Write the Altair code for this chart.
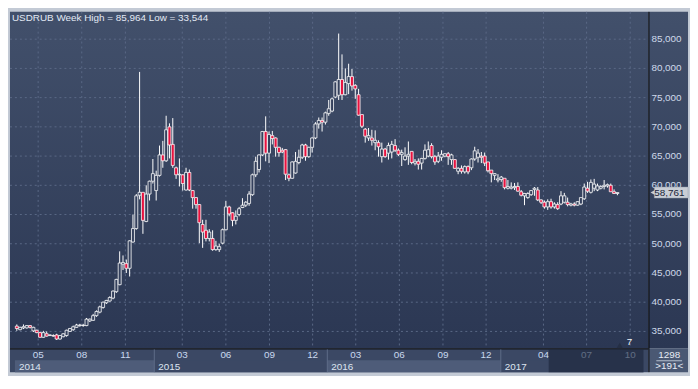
import altair as alt
import pandas as pd

# ---------------- data (weekly USDRUB candles) ----------------
opens = [35.9, 35.3, 35.6, 35.6, 36.0, 35.1, 35.2, 34.8, 34.0, 34.6,
         34.3, 34.3, 34.4, 33.7, 34.1, 34.3, 35.0, 35.3, 35.7, 36.0,
         36.0, 36.0, 36.8, 36.9, 37.7, 38.3, 39.1, 39.9, 40.2, 40.7,
         41.8, 43.0, 46.5, 46.6, 45.8, 50.3, 52.6, 58.3, 58.8, 53.8,
         58.5, 60.7, 59.1, 61.7, 65.2, 64.2, 70.0, 67.0, 63.0, 61.8,
         61.8, 59.2, 62.2, 59.1, 57.9, 56.7, 53.3, 52.3, 50.9, 50.9,
         49.0, 49.0, 50.1, 52.4, 56.3, 55.3, 54.0, 55.0, 56.2, 56.6,
         56.9, 58.4, 61.8, 62.7, 65.2, 69.2, 65.5, 68.5, 68.1, 66.5,
         66.0, 66.1, 61.8, 61.2, 62.1, 63.9, 64.8, 66.9, 64.9, 66.5,
         68.1, 70.5, 71.1, 70.8, 72.3, 72.7, 75.1, 75.4, 78.1, 75.5,
         77.4, 78.6, 77.1, 75.5, 72.1, 69.6, 68.1, 68.1, 67.3, 67.3,
         64.9, 66.2, 65.5, 65.7, 66.8, 66.0, 65.3, 64.4, 65.0, 65.8,
         63.8, 64.1, 63.8, 64.6, 65.0, 66.8, 64.9, 64.1, 64.8, 65.0,
         65.4, 64.4, 64.4, 62.4, 62.9, 62.3, 63.2, 63.0, 64.5, 64.8,
         65.0, 65.0, 64.0, 62.6, 61.7, 60.9, 61.0, 61.2, 59.5, 59.5,
         59.6, 59.8, 58.9, 58.2, 57.9, 58.4, 59.3, 59.2, 57.5, 57.1,
         56.3, 57.2, 56.3, 56.7, 56.8, 57.1, 57.1, 56.6, 56.8, 56.6,
         56.8, 57.7, 59.5, 58.8, 59.5, 59.2, 59.5, 59.8, 59.9, 60.0,
         58.9, 58.6]
highs = [36.2, 35.8, 36.2, 36.1, 36.1, 35.8, 35.3, 34.9, 35.1, 35.0,
         34.5, 34.5, 34.6, 34.4, 34.7, 35.3, 35.6, 36.0, 36.3, 36.3,
         36.3, 37.3, 37.2, 38.0, 38.6, 39.4, 40.1, 40.4, 41.0, 42.0,
         44.0, 48.7, 48.0, 47.3, 50.6, 55.0, 58.5, 79.4, 58.8, 60.0,
         60.8, 64.5, 62.5, 66.8, 67.6, 71.9, 70.6, 71.5, 63.2, 64.6,
         61.9, 63.0, 62.7, 59.2, 58.0, 56.8, 54.1, 54.1, 52.5, 52.3,
         50.5, 50.0, 52.6, 57.3, 56.5, 55.4, 55.7, 56.3, 57.8, 57.3,
         59.0, 62.0, 64.9, 65.3, 69.3, 71.8, 69.2, 69.3, 68.2, 66.6,
         66.4, 66.2, 62.0, 64.1, 65.7, 66.1, 67.1, 67.1, 66.6, 68.2,
         70.8, 71.6, 71.6, 72.6, 74.6, 75.0, 77.8, 85.964, 82.4, 80.0,
         80.8, 79.9, 77.3, 76.5, 72.1, 69.8, 69.8, 69.5, 69.4, 67.7,
         67.3, 66.4, 67.3, 67.6, 67.9, 66.3, 66.1, 66.5, 67.5, 65.8,
         64.5, 64.6, 64.7, 67.0, 67.5, 67.2, 65.2, 65.7, 66.0, 65.5,
         65.7, 65.4, 64.5, 63.1, 63.4, 63.4, 63.4, 64.6, 66.6, 66.2,
         65.7, 65.6, 64.0, 62.6, 62.1, 61.9, 61.6, 61.2, 60.9, 60.5,
         60.4, 60.5, 59.2, 58.7, 58.8, 59.2, 59.7, 59.7, 57.6, 57.4,
         57.6, 57.7, 57.1, 57.1, 59.0, 58.7, 57.9, 57.0, 57.1, 57.3,
         57.9, 60.3, 60.6, 61.0, 61.1, 60.3, 60.0, 60.9, 60.3, 60.3,
         59.3, 58.8]
lows = [35.1, 35.2, 35.4, 35.5, 35.5, 34.9, 34.7, 33.9, 33.9, 34.1,
        34.2, 34.1, 33.544, 33.6, 34.0, 34.1, 34.9, 35.1, 35.6, 35.8,
        35.8, 35.9, 36.6, 36.8, 37.5, 38.1, 38.9, 39.7, 40.1, 40.5,
        41.6, 42.9, 45.5, 45.0, 44.4, 50.2, 52.4, 57.6, 51.7, 53.7,
        57.4, 60.3, 57.4, 61.5, 63.0, 64.0, 64.6, 63.0, 61.1, 59.8,
        59.1, 59.1, 59.0, 56.0, 56.0, 50.1, 49.3, 50.4, 50.4, 48.8,
        48.8, 48.6, 49.9, 52.3, 54.7, 53.0, 53.3, 54.7, 56.1, 56.3,
        56.5, 58.2, 61.4, 62.2, 65.0, 64.1, 63.8, 67.0, 64.9, 64.9,
        65.5, 60.9, 60.7, 61.1, 62.0, 63.6, 64.5, 64.2, 64.7, 65.6,
        67.9, 69.7, 69.2, 70.4, 71.9, 72.5, 74.9, 74.6, 74.6, 75.4,
        75.6, 76.2, 74.8, 71.9, 69.8, 67.3, 67.6, 66.8, 66.0, 64.9,
        63.9, 64.7, 64.4, 64.6, 65.7, 65.0, 63.3, 64.2, 63.5, 63.6,
        63.4, 62.7, 62.7, 64.4, 64.8, 64.6, 63.5, 63.8, 64.2, 64.8,
        63.5, 63.5, 62.8, 61.9, 62.0, 62.0, 61.9, 62.6, 64.2, 63.9,
        63.8, 63.3, 62.2, 60.5, 60.9, 60.5, 60.6, 59.3, 59.3, 59.3,
        59.2, 58.9, 58.1, 56.6, 57.7, 58.2, 58.2, 57.3, 56.8, 56.0,
        55.8, 56.0, 56.0, 55.8, 56.6, 56.9, 56.4, 56.4, 56.4, 56.5,
        56.6, 57.5, 58.7, 58.6, 59.0, 59.0, 59.3, 59.3, 59.6, 58.9,
        58.5, 58.3]
closes = [35.5, 35.7, 35.8, 36.0, 35.7, 35.7, 34.8, 34.0, 34.8, 34.2,
          34.4, 34.2, 33.7, 34.3, 34.6, 35.2, 35.5, 35.8, 36.1, 36.1,
          36.05, 37.1, 37.1, 37.7, 38.4, 39.2, 40.0, 40.3, 40.8, 41.9,
          43.9, 46.7, 46.8, 45.8, 50.5, 52.6, 58.2, 58.8, 54.0, 58.5,
          60.7, 62.0, 61.7, 65.2, 64.2, 69.5, 66.9, 63.4, 61.8, 61.9,
          60.3, 62.2, 59.2, 57.9, 56.7, 53.6, 52.0, 50.9, 52.0, 49.0,
          49.6, 49.5, 52.4, 56.3, 55.1, 54.0, 54.7, 56.0, 56.6, 57.1,
          58.5, 61.8, 64.1, 65.2, 69.2, 65.5, 68.7, 68.0, 66.5, 65.6,
          65.7, 61.9, 61.2, 64.0, 64.1, 64.8, 66.9, 64.9, 66.5, 68.1,
          70.5, 71.1, 70.8, 72.4, 73.1, 74.8, 77.7, 78.1, 75.5, 77.6,
          78.6, 77.0, 76.5, 72.0, 70.1, 68.4, 68.5, 67.7, 67.7, 66.6,
          66.2, 64.9, 66.8, 67.0, 66.0, 65.3, 65.6, 65.0, 65.3, 63.9,
          64.1, 63.6, 64.6, 66.0, 66.1, 64.9, 64.0, 65.0, 65.3, 65.4,
          64.9, 65.2, 62.9, 62.9, 62.4, 63.2, 62.3, 64.5, 65.9, 65.5,
          64.8, 63.8, 62.5, 62.0, 62.0, 61.1, 61.4, 59.6, 59.8, 59.7,
          59.8, 59.0, 58.3, 58.6, 58.6, 59.1, 59.5, 57.5, 57.1, 56.3,
          57.2, 56.3, 56.8, 56.0, 58.2, 58.2, 56.7, 56.8, 56.6, 57.2,
          57.9, 59.7, 59.0, 60.5, 60.2, 59.9, 59.8, 60.0, 60.1, 58.9,
          58.6, 58.761]
first_week = "2014-03-17"

y_ticks = [35, 40, 45, 50, 55, 60, 65, 70, 75, 80, 85]
month_ticks = ["2014-05-01", "2014-08-01", "2014-11-01", "2015-03-01", "2015-06-01",
               "2015-09-01", "2015-12-01", "2016-03-01", "2016-06-01", "2016-09-01",
               "2016-12-01", "2017-04-01", "2017-07-01", "2017-10-01"]
month_labels = ["05", "08", "11", "03", "06", "09", "12", "03", "06", "09", "12", "04", "07", "10"]
year_labels = ["2014", "2015", "2016", "2017"]
year_starts = ["2014-03-13", "2015-01-01", "2016-01-01", "2017-01-01"]
year_ends = ["2015-01-01", "2016-01-01", "2017-01-01", "2017-10-29"]
x_domain = ["2014-03-13", "2017-10-29"]
y_domain = [32.097, 89.677]

# ---------------- layout / style ----------------
W, H = 645, 340
PANEL = 40
BAND = 24
FONT = "Liberation Sans"
BG_TOP, BG_BOT = "#42506b", "#2b3753"
RED = "#e8123f"

dates = pd.date_range(first_week, periods=len(closes), freq="7D")
df = pd.DataFrame({"date": dates, "open": opens, "high": highs, "low": lows, "close": closes})
df["top"] = df[["open", "close"]].max(axis=1)
df["bot"] = df[["open", "close"]].min(axis=1)
df["dir"] = ["up" if c >= o else "down" for o, c in zip(opens, closes)]

xs = alt.Scale(domain=[pd.Timestamp(d).isoformat() for d in x_domain], nice=False)
ys = alt.Scale(domain=y_domain, nice=False, zero=False)


def X(field):
    return alt.X(field, type="temporal", scale=xs, axis=None)


def Y(field):
    return alt.Y(field, type="quantitative", scale=ys, axis=None)


one = pd.DataFrame({"a": [0]})
grad = {"gradient": "linear", "x1": 0, "y1": 0, "x2": 0, "y2": 1,
        "stops": [{"offset": 0, "color": BG_TOP}, {"offset": 1, "color": BG_BOT}]}

plot_bg = alt.Chart(one).mark_rect(fill=grad).encode(
    x=alt.value(0), x2=alt.value(W), y=alt.value(0), y2=alt.value(H))
panel_bg = alt.Chart(one).mark_rect(fill=grad).encode(
    x=alt.value(W), x2=alt.value(W + PANEL), y=alt.value(0), y2=alt.value(H))
band_bg = alt.Chart(one).mark_rect(fill="#3b4864").encode(
    x=alt.value(0), x2=alt.value(W), y=alt.value(H), y2=alt.value(H + BAND))
corner_bg = alt.Chart(one).mark_rect(fill="#4a5873").encode(
    x=alt.value(W), x2=alt.value(W + PANEL), y=alt.value(H), y2=alt.value(H + BAND))

years_df = pd.DataFrame({
    "label": year_labels,
    "start": pd.to_datetime(year_starts),
    "end": pd.to_datetime(year_ends),
    "shade": ["a", "b", "a", "b"],
})
year_boxes = alt.Chart(years_df).mark_rect().encode(
    x=X("start"), x2="end",
    y=alt.value(H + 12), y2=alt.value(H + BAND),
    fill=alt.Fill("shade:N", scale=alt.Scale(domain=["a", "b"], range=["#4e5c79", "#3b4864"]), legend=None),
)
year_sep = alt.Chart(years_df.iloc[1:]).mark_rule(color="#5e6c88", strokeWidth=1).encode(
    x=X("start"), y=alt.value(H + 1), y2=alt.value(H + BAND))
year_text = alt.Chart(years_df).mark_text(
    align="left", baseline="middle", dx=4, font=FONT, fontSize=10, color="#dde5f0").encode(
    x=X("start"), y=alt.value(H + 18.5), text="label:N")

ticks_df = pd.DataFrame({"v": y_ticks})
ticks_df["lab"] = [f"{v:.3f}".replace(".", ",") for v in y_ticks]
months_df = pd.DataFrame({"date": pd.to_datetime(month_ticks), "lab": month_labels})

hgrid = alt.Chart(ticks_df).mark_rule(color="#5a6886", strokeDash=[2, 3], strokeWidth=1).encode(
    y=Y("v"), x=alt.value(0), x2=alt.value(W))
vgrid = alt.Chart(months_df).mark_rule(color="#5a6886", strokeDash=[2, 3], strokeWidth=1).encode(
    x=X("date"), y=alt.value(0), y2=alt.value(H))

base = alt.Chart(df)
wick_hi = base.mark_rule(color="#ffffff", strokeWidth=1).encode(x=X("date"), y=Y("top"), y2="high")
wick_lo = base.mark_rule(color="#ffffff", strokeWidth=1).encode(x=X("date"), y=Y("low"), y2="bot")
bodies = base.mark_bar(size=3, stroke="#ffffff", strokeWidth=0.8).encode(
    x=X("date"), y=Y("open"), y2="close",
    fill=alt.Fill("dir:N", scale=alt.Scale(domain=["up", "down"], range=["#34405c", RED]), legend=None),
)

x_line = alt.Chart(one).mark_rule(color="#000000", strokeWidth=1).encode(
    x=alt.value(0), x2=alt.value(W), y=alt.value(H + 0.5))
y_line = alt.Chart(one).mark_rule(color="#000000", strokeWidth=1).encode(
    x=alt.value(W + 0.5), y=alt.value(0), y2=alt.value(H + BAND))

month_text = alt.Chart(months_df).mark_text(
    align="center", baseline="middle", font=FONT, fontSize=10, color="#c9d8ef").encode(
    x=X("date"), y=alt.value(H + 7), text="lab:N")

overlay_df = pd.DataFrame({"start": [pd.Timestamp("2017-04-12")], "end": [pd.Timestamp(x_domain[1])]})
overlay = alt.Chart(overlay_df).mark_rect(fill="#1a2439", opacity=0.6).encode(
    x=X("start"), x2="end", y=alt.value(H + 1), y2=alt.value(H + BAND))

y_text = alt.Chart(ticks_df).mark_text(
    align="left", baseline="middle", font=FONT, fontSize=10, color="#cfd9ea").encode(
    x=alt.value(W + 3), y=Y("v"), text="lab:N")

last_df = pd.DataFrame({"v": [closes[-1]], "lab": [f"{closes[-1]:.3f}".replace(".", ",")]})
price_box = alt.Chart(last_df).mark_rect(fill="#c9cdd5", stroke="#9aa3b2", strokeWidth=0.5,
                                         yOffset=-5.5, y2Offset=5.5).encode(
    x=alt.value(W + 6), x2=alt.value(W + PANEL), y=Y("v"), y2="v")
price_arrow = alt.Chart(last_df).mark_point(shape="triangle-left", filled=True, size=45,
                                            color="#c9cdd5", opacity=1).encode(
    x=alt.value(W + 5), y=Y("v"))
price_text = alt.Chart(last_df).mark_text(
    align="left", baseline="middle", font=FONT, fontSize=10, color="#1b2538").encode(
    x=alt.value(W + 6), y=Y("v"), text="lab:N")

title_str = "USDRUB Week High = {} Low = {}".format(
    f"{max(highs):.3f}".replace(".", ","), f"{min(lows):.3f}".replace(".", ","))
title = alt.Chart(pd.DataFrame({"t": [title_str]})).mark_text(
    align="left", baseline="middle", font=FONT, fontSize=10, color="#e2e9f4").encode(
    x=alt.value(2), y=alt.value(6), text="t:N")

marker_tri = alt.Chart(one).mark_point(shape="triangle-up", filled=True, size=40,
                                       color="#252f45", opacity=1).encode(
    x=alt.value(616), y=alt.value(H - 3))
marker_txt = alt.Chart(pd.DataFrame({"t": ["7"]})).mark_text(
    align="left", baseline="middle", font=FONT, fontSize=10, color="#f0f4fa").encode(
    x=alt.value(623), y=alt.value(H - 6), text="t:N")

corner_txt = alt.Chart(pd.DataFrame({"t": ["1298", ">191<"], "yy": [H + 6.5, H + 18]})).mark_text(
    align="center", baseline="middle", font=FONT, fontSize=10, color="#e6ecf5").encode(
    x=alt.value(W + 21), y=alt.Y("yy:Q", scale=None, axis=None), text="t:N")
corner_bar = alt.Chart(one).mark_rule(color="#b8c2d2", strokeWidth=1).encode(
    x=alt.value(W + 8), x2=alt.value(W + 34), y=alt.value(H + 12.5))

chart = alt.layer(
    plot_bg, panel_bg, band_bg, corner_bg, year_boxes,
    hgrid, vgrid,
    wick_hi, wick_lo, bodies,
    x_line, y_line, year_sep,
    month_text, year_text, overlay,
    y_text, price_box, price_arrow, price_text,
    title, marker_tri, marker_txt, corner_bar, corner_txt,
).resolve_scale(y="independent", fill="independent").properties(
    width=W, height=H,
    autosize=alt.AutoSizeParams(type="none"),
    padding={"left": 2, "top": 2, "right": 2 + PANEL, "bottom": 2 + BAND},
    background="#c3cad5",
).configure_view(strokeWidth=0)

chart.save("out.html", embed_options={"renderer": "svg", "actions": False})
